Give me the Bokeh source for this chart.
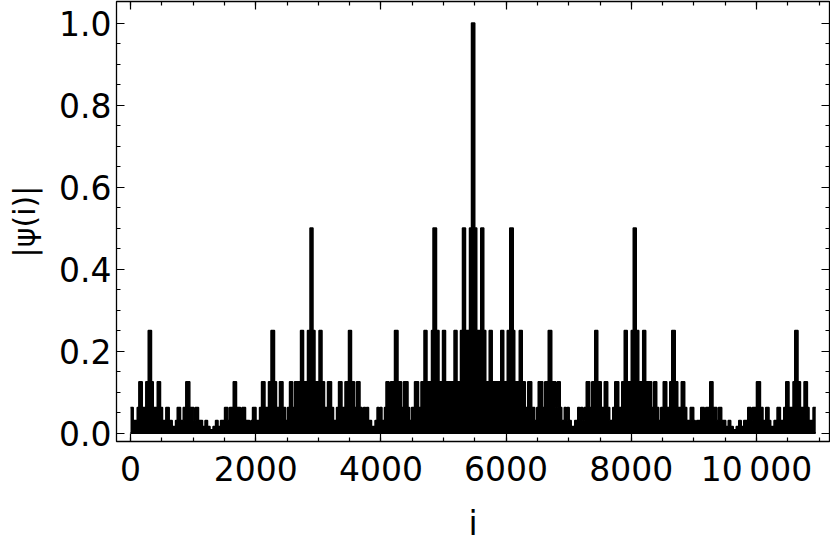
from bokeh.plotting import figure
from bokeh.models import LinearAxis, FixedTicker, PrintfTickFormatter, Range1d
from bokeh.embed import file_html
from bokeh.resources import INLINE

# Envelope of |psi(i)|: run start positions and run heights
i_left = [0, 43, 107, 133, 187, 244, 283, 335, 363, 427, 479, 511, 564, 618, 666, 719, 746, 799,
          842, 883, 947, 1011, 1034, 1086, 1150, 1190, 1230, 1270, 1318, 1358, 1398, 1438, 1502,
          1554, 1581, 1641, 1693, 1757, 1781, 1837, 1901, 1925, 1949, 2005, 2061, 2093, 2148,
          2204, 2244, 2300, 2332, 2380, 2436, 2476, 2508, 2540, 2588, 2620, 2716, 2764, 2827,
          2867, 2915, 2947, 3011, 3059, 3099, 3147, 3211, 3243, 3291, 3323, 3378, 3426, 3482,
          3530, 3578, 3610, 3666, 3698, 3722, 3754, 3770, 3802, 3850, 3906, 3938, 3970, 3986,
          4017, 4057, 4081, 4129, 4153, 4217, 4273, 4329, 4361, 4433, 4457, 4489, 4537, 4601,
          4640, 4688, 4736, 4808, 4832, 4888, 4928, 4984, 5032, 5168, 5216, 5271, 5303, 5351,
          5415, 5447]
psi_left = [0.0625, 0.031, 0.0625, 0.125, 0.0625, 0.125, 0.25, 0.125, 0.0625, 0.125,
            0.0625, 0.031, 0.0625, 0.031, 0.016, 0.031, 0.0625, 0.031, 0.0625, 0.125,
            0.0625, 0.031, 0.0625, 0.031, 0.016, 0.031, 0.016, 0.008, 0.016, 0.031,
            0.016, 0.031, 0.0625, 0.031, 0.0625, 0.125, 0.0625, 0.031, 0.0625, 0.031,
            0.016, 0.031, 0.0625, 0.031, 0.0625, 0.125, 0.0625, 0.125, 0.25, 0.125,
            0.0625, 0.125, 0.0625, 0.031, 0.0625, 0.125, 0.0625, 0.125, 0.25, 0.125,
            0.25, 0.5, 0.25, 0.125, 0.25, 0.125, 0.0625, 0.125, 0.0625, 0.031,
            0.0625, 0.125, 0.0625, 0.125, 0.25, 0.125, 0.0625, 0.125, 0.0625, 0.031,
            0.0625, 0.031, 0.0625, 0.031, 0.016, 0.031, 0.0625, 0.031, 0.0625, 0.031,
            0.0625, 0.125, 0.0625, 0.125, 0.25, 0.125, 0.0625, 0.125, 0.0625, 0.031,
            0.0625, 0.125, 0.0625, 0.125, 0.25, 0.125, 0.25, 0.5, 0.25, 0.125,
            0.25, 0.125, 0.25, 0.125, 0.25, 0.5, 0.25, 0.5, 1.0]
i_right = [5499, 5531, 5595, 5643, 5675, 5730, 5778, 5914, 5962, 6018, 6058, 6114, 6138, 6210,
           6258, 6306, 6345, 6409, 6457, 6489, 6513, 6585, 6617, 6673, 6729, 6793, 6817, 6865,
           6889, 6929, 6960, 6976, 7008, 7040, 7096, 7144, 7176, 7192, 7224, 7248, 7280, 7336,
           7368, 7416, 7464, 7520, 7568, 7623, 7655, 7703, 7735, 7799, 7847, 7887, 7935, 7999,
           8031, 8079, 8119, 8182, 8230, 8326, 8358, 8406, 8438, 8470, 8510, 8566, 8614, 8646,
           8702, 8742, 8798, 8853, 8885, 8941, 8997, 9021, 9045, 9109, 9165, 9189, 9253, 9305,
           9365, 9392, 9444, 9508, 9548, 9588, 9628, 9676, 9716, 9756, 9796, 9860, 9912, 9935,
           9999, 10063, 10104, 10147, 10200, 10227, 10280, 10328, 10382, 10435, 10467, 10519,
           10583, 10611, 10663, 10702, 10759, 10813, 10839, 10903, 10946]
psi_right = [0.5, 0.25, 0.5, 0.25, 0.125, 0.25, 0.125, 0.25, 0.125, 0.25,
             0.5, 0.25, 0.125, 0.25, 0.125, 0.0625, 0.125, 0.0625, 0.031, 0.0625,
             0.125, 0.0625, 0.125, 0.25, 0.125, 0.0625, 0.125, 0.0625, 0.031, 0.0625,
             0.031, 0.0625, 0.031, 0.016, 0.031, 0.0625, 0.031, 0.0625, 0.031, 0.0625,
             0.125, 0.0625, 0.125, 0.25, 0.125, 0.0625, 0.125, 0.0625, 0.031, 0.0625,
             0.125, 0.0625, 0.125, 0.25, 0.125, 0.25, 0.5, 0.25, 0.125, 0.25,
             0.125, 0.0625, 0.125, 0.0625, 0.031, 0.0625, 0.125, 0.0625, 0.125, 0.25,
             0.125, 0.0625, 0.125, 0.0625, 0.031, 0.0625, 0.031, 0.016, 0.031, 0.0625,
             0.031, 0.0625, 0.125, 0.0625, 0.031, 0.0625, 0.031, 0.016, 0.031, 0.016,
             0.008, 0.016, 0.031, 0.016, 0.031, 0.0625, 0.031, 0.0625, 0.125, 0.0625,
             0.031, 0.0625, 0.031, 0.016, 0.031, 0.0625, 0.031, 0.0625, 0.125, 0.0625,
             0.125, 0.25, 0.125, 0.0625, 0.125, 0.0625, 0.031, 0.0625]

x_major = [0, 2000, 4000, 6000, 8000, 10000]
x_minor = [0, 500, 1000, 1500, 2000, 2500, 3000, 3500, 4000, 4500, 5000, 5500, 6000, 6500,
           7000, 7500, 8000, 8500, 9000, 9500, 10000, 10500, 11000]
y_major = [0.0, 0.2, 0.4, 0.6, 0.8, 1.0]
y_minor = [0.0, 0.05, 0.1, 0.15, 0.2, 0.25, 0.3, 0.35, 0.4, 0.45, 0.5, 0.55, 0.6, 0.65,
           0.7, 0.75, 0.8, 0.85, 0.9, 0.95, 1.0]

edges = i_left + i_right
heights = psi_left + psi_right
heights_step = heights + [heights[-1]]

FONT = "DejaVu Sans"

p = figure(width=830, height=545, output_backend="svg", toolbar_location=None,
           x_range=Range1d(-224, 11166), y_range=Range1d(-0.0205, 1.0526),
           min_border_left=116, min_border_right=1, min_border_top=1, min_border_bottom=103)
p.background_fill_color = "white"
p.border_fill_color = "white"
p.outline_line_color = "black"
p.outline_line_width = 1.3
p.xgrid.grid_line_color = None
p.ygrid.grid_line_color = None

p.varea_step(x=edges, y1=0, y2=heights_step, step_mode="after", fill_color="black")
p.step(x=edges, y=heights_step, mode="after", line_color="black", line_width=1.5)
p.line(x=[edges[0], edges[-1]], y=[0, 0], line_color="black", line_width=2)

xt = FixedTicker(ticks=x_major, minor_ticks=x_minor)
yt = FixedTicker(ticks=y_major, minor_ticks=y_minor)

def style(ax):
    ax.axis_line_color = None
    ax.major_tick_in = 8
    ax.major_tick_out = 0
    ax.minor_tick_in = 4
    ax.minor_tick_out = 0
    ax.major_tick_line_width = 1.2
    ax.minor_tick_line_width = 1.2
    ax.major_tick_line_color = "black"
    ax.minor_tick_line_color = "black"

xa = p.xaxis[0]
xa.ticker = xt
style(xa)
xa.major_label_overrides = {10000: "10\u2009000"}
xa.major_label_text_font = FONT
xa.major_label_text_font_size = "33px"
xa.major_label_text_color = "black"
xa.major_label_standoff = 8
xa.axis_label = "i"
xa.axis_label_text_font = FONT
xa.axis_label_text_font_size = "33px"
xa.axis_label_text_font_style = "normal"
xa.axis_label_text_color = "black"
xa.axis_label_standoff = 12

ya = p.yaxis[0]
ya.ticker = yt
style(ya)
ya.formatter = PrintfTickFormatter(format="%.1f")
ya.major_label_text_font = FONT
ya.major_label_text_font_size = "33px"
ya.major_label_text_color = "black"
ya.major_label_standoff = 5
ya.axis_label = "|ψ(i)|"
ya.axis_label_text_font = FONT
ya.axis_label_text_font_size = "30px"
ya.axis_label_text_font_style = "normal"
ya.axis_label_text_color = "black"
ya.axis_label_standoff = 14

top = LinearAxis(ticker=xt, major_label_text_font_size="0px", major_label_text_color=None,
                 major_label_standoff=0)
style(top)
p.add_layout(top, "above")
right = LinearAxis(ticker=yt, major_label_text_font_size="0px", major_label_text_color=None,
                   major_label_standoff=0)
style(right)
p.add_layout(right, "right")

open("out.html", "w").write(file_html(p, INLINE))
